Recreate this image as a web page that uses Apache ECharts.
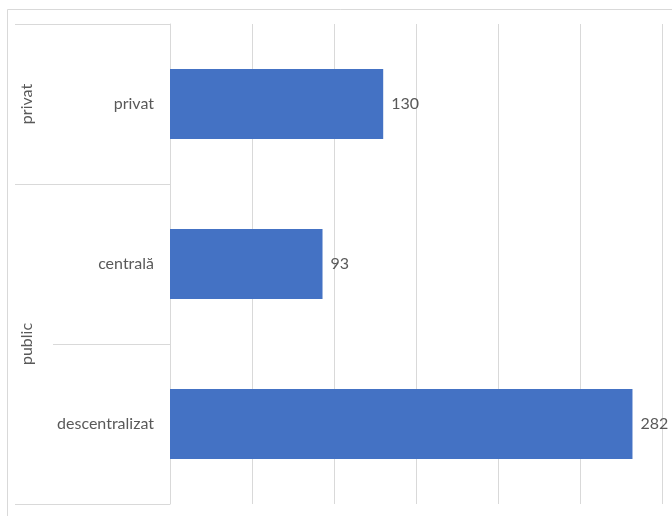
<!DOCTYPE html>
<html>
<head>
<meta charset="utf-8">
<script src="https://cdn.jsdelivr.net/npm/echarts@6/dist/echarts.min.js"></script>
<style>
html,body{margin:0;padding:0;background:#fff;}
#c{width:672px;height:516px;}
</style>
</head>
<body>
<div id="c"></div>
<script>
const categories = ['privat', 'centrală', 'descentralizat'];
const values = [130, 93, 282];
const groups = ['privat', 'public'];
const groupSizes = [1, 2];
const valueMax = 300;
const valueStep = 50;

// group boundaries and centres on a 0..N scale
const boundaries = [0];
const centres = [];
groupSizes.forEach(function (s) {
  const start = boundaries[boundaries.length - 1];
  centres.push(start + s / 2);
  boundaries.push(start + s);
});

const FONT = 'Lato';
const TXT = '#595959';
const LINE = '#d9d9d9';

const chart = echarts.init(document.getElementById('c'));
chart.setOption({
  animation: false,
  backgroundColor: '#fff',
  graphic: [{
    type: 'rect',
    shape: { x: 7.5, y: 9.5, width: 720, height: 560 },
    style: { fill: 'none', stroke: LINE, lineWidth: 1 },
    silent: true
  }],
  grid: { left: 170, right: 10, top: 24, bottom: 12, containLabel: false },
  xAxis: {
    type: 'value', min: 0, max: valueMax, interval: valueStep,
    axisLabel: { show: false },
    axisLine: { show: false },
    axisTick: { show: false },
    splitLine: { show: true, lineStyle: { color: LINE, width: 1 } }
  },
  yAxis: [{
    type: 'category', data: categories, inverse: true,
    axisLine: { show: true, lineStyle: { color: LINE, width: 1 } },
    axisTick: { show: true, length: 117, lineStyle: { color: LINE, width: 1 } },
    axisLabel: { color: TXT, fontFamily: FONT, fontSize: 16, margin: 16 }
  }, {
    type: 'value', position: 'left', offset: 117, inverse: true,
    min: 0, max: categories.length,
    axisLine: { show: false },
    splitLine: { show: false },
    axisTick: { show: true, length: 38, customValues: boundaries, lineStyle: { color: LINE, width: 1 } },
    axisLabel: {
      show: true, customValues: centres, rotate: 90, margin: 18,
      color: TXT, fontFamily: FONT, fontSize: 16,
      formatter: function (v) {
        const i = centres.indexOf(v);
        return i >= 0 ? groups[i] : '';
      }
    }
  }],
  series: [{
    type: 'bar', data: values, yAxisIndex: 0, barWidth: 70,
    itemStyle: { color: '#4472C4' },
    label: { show: true, position: 'right', distance: 8, color: TXT, fontFamily: FONT, fontSize: 16 }
  }]
});
</script>
</body>
</html>
